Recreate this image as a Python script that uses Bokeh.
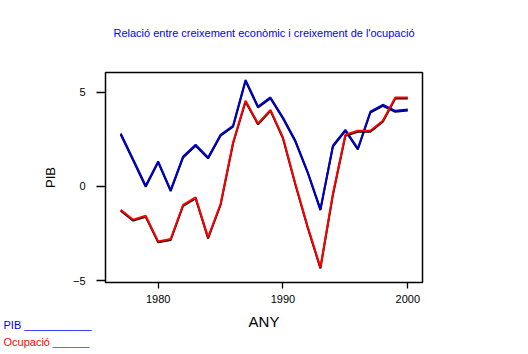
from bokeh.plotting import figure
from bokeh.models import Title, FixedTicker, ColumnDataSource
from bokeh.transform import dodge
from bokeh.embed import file_html
from bokeh.resources import INLINE

years = list(range(1977, 2001))
pib = [2.81, 1.43, 0.04, 1.33, -0.19, 1.59, 2.21, 1.54, 2.74, 3.22, 5.64, 4.24,
       4.72, 3.66, 2.42, 0.74, -1.20, 2.16, 3.00, 2.01, 3.96, 4.33, 4.01, 4.08]
ocupacio = [-1.23, -1.76, -1.55, -2.91, -2.79, -0.97, -0.58, -2.70, -0.93, 2.33, 4.54, 3.34,
            4.06, 2.60, 0.13, -2.17, -4.29, -0.40, 2.74, 2.95, 2.95, 3.48, 4.72, 4.72]
x_ticks = [1980, 1990, 2000]
y_ticks = [-5, 0, 5]

title_text = "Relació entre creixement econòmic i creixement de l'ocupació"
x_label = "ANY"
y_label = "PIB"
legend_pib = "PIB ___________"
legend_ocu = "Ocupació ______"

src = ColumnDataSource(dict(x=years, pib=pib, ocu=ocupacio))

FONT = "Liberation Sans"

p = figure(width=528, height=354, output_backend="svg", toolbar_location=None, title=None,
           x_range=(1975.78, 2001.18), y_range=(-5.09, 6.04),
           min_border_left=105, min_border_right=106, min_border_top=72, min_border_bottom=72)
p.background_fill_color = "white"
p.border_fill_color = "white"
p.outline_line_color = "black"
p.outline_line_width = 1.5
p.outline_line_alpha = 1.0
p.grid.visible = False


def make_title(text, color, align, offset, standoff, valign="bottom"):
    return Title(text=text, align=align, offset=offset, standoff=standoff, vertical_align=valign,
                 text_font=FONT, text_font_size="11px", text_font_style="normal",
                 text_color=color)


# spacer nearest the frame, then the real title above it
p.add_layout(make_title(" ", "white", "center", 0, 20), "above")
p.add_layout(make_title(title_text, "#0000ff", "center", 0, 0), "above")

shadow = -0.053
p.line(x="x", y=dodge("pib", shadow, range=p.y_range), source=src, line_color="black", line_width=2)
p.line(x="x", y="pib", source=src, line_color="#0000cc", line_width=2)
p.line(x="x", y=dodge("ocu", shadow, range=p.y_range), source=src, line_color="black", line_width=2)
p.line(x="x", y="ocu", source=src, line_color="#ff0000", line_width=2)

for ax in (p.xaxis[0], p.yaxis[0]):
    ax.axis_line_color = None
    ax.minor_tick_line_color = None
    ax.major_tick_in = 0
    ax.major_tick_line_color = "black"
    ax.major_tick_line_width = 1.3
    ax.major_label_text_font = FONT
    ax.major_label_text_font_size = "11px"
    ax.major_label_text_color = "black"
    ax.axis_label_text_font = FONT
    ax.axis_label_text_font_style = "normal"
    ax.axis_label_text_color = "black"

p.xaxis[0].ticker = FixedTicker(ticks=x_ticks)
p.yaxis[0].ticker = FixedTicker(ticks=y_ticks)
p.xaxis[0].major_tick_out = 6
p.yaxis[0].major_tick_out = 9
p.xaxis[0].major_label_standoff = 6
p.yaxis[0].major_label_standoff = 11
p.xaxis[0].axis_label = x_label
p.yaxis[0].axis_label = y_label
p.xaxis[0].axis_label_text_font_size = "15px"
p.yaxis[0].axis_label_text_font_size = "13px"
p.xaxis[0].axis_label_standoff = 7
p.yaxis[0].axis_label_standoff = 12

# legend texts below the axis: Ocupació row first, then PIB pulled back up
p.add_layout(make_title(legend_ocu, "#ff0000", "left", -102, 3), "below")
p.add_layout(make_title(legend_pib, "#0000ff", "left", -102, -61, "top"), "below")

open("out.html", "w").write(file_html(p, INLINE))
